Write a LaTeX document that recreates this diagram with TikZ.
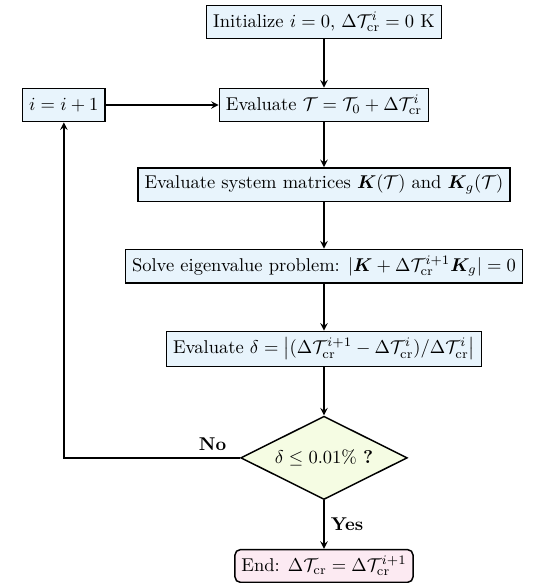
\documentclass[tikz,border=0pt]{standalone}
\usepackage{amsmath,amssymb,amsfonts}
\usepackage{bm}
\usepackage{xcolor}
\usepackage{tikz}
\usetikzlibrary{shapes.geometric, arrows.meta, positioning, calc}

\definecolor{boxblue}{RGB}{232,244,252}
\definecolor{decyellow}{RGB}{245,252,227}
\definecolor{endpink}{RGB}{252,234,242}

\begin{document}
\begin{tikzpicture}[
  process/.style={rectangle, draw=black, thick, align=center, minimum height=18pt, inner sep=3.5pt, fill=boxblue},
  decision/.style={diamond, draw=black, thick, aspect=2, minimum width=90pt, minimum height=45pt, inner sep=0pt, fill=decyellow},
  terminal/.style={rectangle, draw=black, thick, rounded corners=3pt, align=center, minimum height=17pt, inner sep=3.5pt, fill=endpink},
  arrow/.style={thick,->,>=stealth}
]

\useasboundingbox (-175pt,11.9pt) rectangle (114.5pt,-303pt);

\node (init) [process] at (0,0) {Initialize $i=0$, $\Delta\mathcal{T}_{\mathrm{cr}}^{i}=0~\mathrm{K}$};
\node (evalT) [process] at (0,-44.8pt) {Evaluate $\mathcal{T}=\mathcal{T}_0+\Delta\mathcal{T}_{\mathrm{cr}}^{i}$};
\node (sysmat) [process] at (0,-87.8pt) {Evaluate system matrices $\bm{K}(\mathcal{T})$ and $\bm{K}_g(\mathcal{T})$};
\node (eigen) [process] at (0,-131.8pt) {Solve eigenvalue problem: $|\bm{K}+\Delta\mathcal{T}_{\mathrm{cr}}^{i+1}\bm{K}_g|=0$};
\node (delta) [process] at (0,-176.6pt) {Evaluate $\delta=\big|(\Delta\mathcal{T}_{\mathrm{cr}}^{i+1}-\Delta\mathcal{T}_{\mathrm{cr}}^{i})/\Delta\mathcal{T}_{\mathrm{cr}}^{i}\big|$};
\node (check) [decision] at (0,-235.4pt) {$\delta\leq 0.01\%$ \textbf{?}};
\node (stop) [terminal] at (0,-293.8pt) {End: $\Delta\mathcal{T}_{\mathrm{cr}}=\Delta\mathcal{T}_{\mathrm{cr}}^{i+1}$};
\node (incr) [process, left=61pt of evalT] {$i=i+1$};

\draw [arrow] (init) -- (evalT);
\draw [arrow] (evalT) -- (sysmat);
\draw [arrow] (sysmat) -- (eigen);
\draw [arrow] (eigen) -- (delta);
\draw [arrow] (delta) -- (check);
\draw [arrow] (check) -- node[right, font=\bfseries] {Yes} (stop);
\draw [arrow] (check.west) -- node[above, pos=0.155, font=\bfseries] {No} (check.west -| incr.south) -- (incr.south);
\draw [arrow] (incr) -- (evalT);

\end{tikzpicture}
\end{document}
